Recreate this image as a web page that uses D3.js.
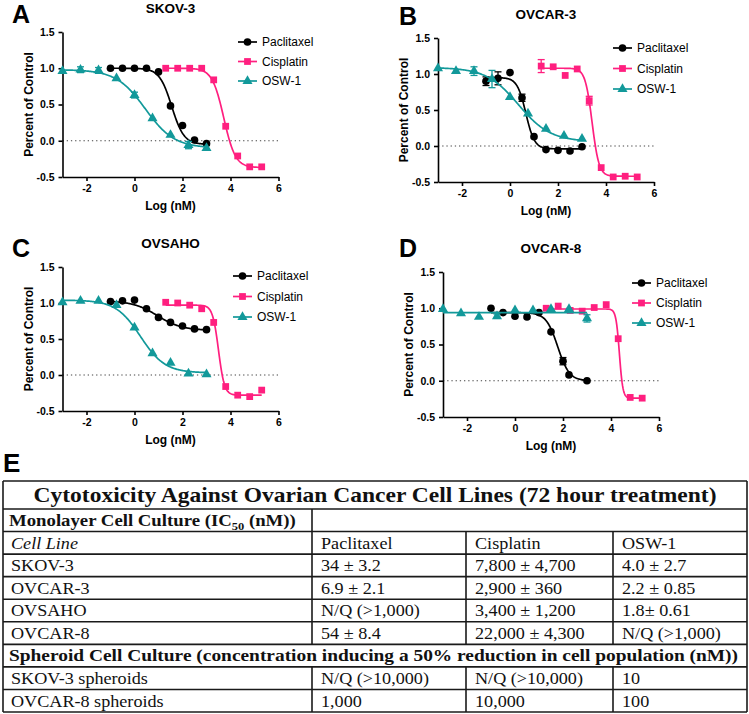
<!DOCTYPE html>
<html>
<head>
<meta charset="utf-8">
<script src="https://cdn.jsdelivr.net/npm/d3@7"></script>
<style>
  body { margin: 0; background: #fff; }
  svg { display: block; }
</style>
</head>
<body>
<svg id="chart" width="749" height="714"></svg>
<script>
// axis ticks and legend names
const xTicks = [-2, 0, 2, 4, 6]
const yTicks = [-0.5, 0, 0.5, 1.0, 1.5]
const drugs = ['Paclitaxel', 'Cisplatin', 'OSW-1']

// doses, Log (nM)
const paclitaxelDoses = [-1, -0.5, 0, 0.5, 1, 1.5, 2, 2.5, 3]
const paclitaxelDosesOvcar8 = [-1, -0.5, 0, 0.5, 1, 1.5, 2, 2.25, 3]
const cisplatinDoses = [1.3, 1.8, 2.3, 2.8, 3.3, 3.8, 4.3, 4.8, 5.3]
const osw1Doses = [-3, -2.25, -1.5, -0.75, 0, 0.75, 1.5, 2.25, 3]

// A: SKOV-3 (percent of control)
const skov3Paclitaxel = [1.0, 1.0, 1.0, 1.0, 0.95, 0.48, 0.21, 0.01, -0.04]
const skov3Cisplatin = [1.0, 1.0, 1.0, 1.0, 0.84, 0.2, -0.21, -0.36, -0.36]
const skov3Osw1 = [0.96, 0.98, 0.97, 0.86, 0.63, 0.31, 0.08, -0.06, -0.1]
const skov3Osw1Err = [0, 0.04, 0.04, 0, 0.04, 0, 0, 0.05, 0]
// fitted curves: [top, bottom, logIC50, hill slope]
const skov3Fits = [[1.0, -0.05, 1.55, 1.7], [1.0, -0.37, 3.72, 1.8], [0.98, -0.1, 0.45, 0.72]]

// B: OVCAR-3
const ovcar3Paclitaxel = [0.9, 0.94, 1.02, 0.67, 0.13, -0.05, -0.06, -0.07, -0.01]
const ovcar3PaclitaxelErr = [0.06, 0.09, 0, 0.05, 0, 0, 0, 0, 0]
const ovcar3Cisplatin = [1.11, 1.1, 0.98, 1.07, 0.63, -0.3, -0.43, -0.42, -0.43]
const ovcar3CisplatinErr = [0.09, 0, 0, 0, 0.06, 0, 0, 0, 0]
const ovcar3Osw1 = [1.08, 1.04, 1.04, 0.93, 0.68, 0.45, 0.24, 0.14, 0.1]
const ovcar3Osw1Err = [0, 0, 0.06, 0.12, 0, 0, 0, 0, 0]
const ovcar3Fits = [[0.95, -0.04, 0.66, 2.4], [1.08, -0.42, 3.42, 3.0], [1.09, 0.06, 0.35, 0.65]]

// C: OVSAHO
const ovsahoPaclitaxel = [1.02, 1.03, 1.04, 0.92, 0.8, 0.73, 0.68, 0.64, 0.63]
const ovsahoCisplatin = [1.01, 1.0, 0.97, 0.92, 0.73, -0.16, -0.28, -0.3, -0.21]
const ovsahoOsw1 = [1.01, 1.03, 1.03, 0.97, 0.66, 0.3, 0.17, 0.02, 0.01]
const ovsahoFits = [[1.03, 0.62, 0.95, 0.85], [0.97, -0.28, 3.5, 3.5], [1.04, 0.03, 0.25, 0.85]]

// D: OVCAR-8
const ovcar8Paclitaxel = [1.0, 0.94, 0.89, 0.88, 0.94, 0.675, 0.27, 0.08, 0.0]
const ovcar8PaclitaxelErr = [0, 0, 0, 0, 0, 0, 0.05, 0, 0]
const ovcar8Cisplatin = [1.0, 1.03, 0.97, 0.96, 1.01, 1.05, 0.58, -0.23, -0.24]
const ovcar8Osw1 = [0.99, 0.93, 0.88, 0.89, 0.97, 0.97, 0.99, 0.99, 0.86]
const ovcar8Osw1Err = [0, 0, 0, 0.03, 0, 0, 0, 0, 0.05]
const ovcar8Fits = [[0.94, 0.0, 1.78, 1.8], [0.99, -0.24, 4.35, 6], [0.94, 0.94, 0, 1]]

// E: table
const tableTitle = 'Cytotoxicity Against Ovarian Cancer Cell Lines (72 hour treatment)'
const monolayerLines = ['SKOV-3', 'OVCAR-3', 'OVSAHO', 'OVCAR-8']
const monolayerValues = [
  ['34 ± 3.2', '7,800 ± 4,700', '4.0 ± 2.7'],
  ['6.9 ± 2.1', '2,900 ± 360', '2.2 ± 0.85'],
  ['N/Q (>1,000)', '3,400 ± 1,200', '1.8± 0.61'],
  ['54 ± 8.4', '22,000 ± 4,300', 'N/Q (>1,000)'],
]
const spheroidTitle = 'Spheroid Cell Culture (concentration inducing a 50% reduction in cell population (nM))'
const spheroidLines = ['SKOV-3 spheroids', 'OVCAR-8 spheroids']
const spheroidValues = [
  ['N/Q (>10,000)', 'N/Q (>10,000)', '10'],
  ['1,000', '10,000', '100'],
]

const COLORS = ['#000000', '#ff1f7f', '#12999a']
const SYMBOLS = [d3.symbolCircle, d3.symbolSquare, d3.symbolTriangle]
const SYMBOL_SIZES = [46, 46, 44]
const SANS = '"Liberation Sans", Arial, sans-serif'
const SERIF = '"Liberation Serif", "Times New Roman", serif'
const CELL_STRETCH = 1.1

const zeros = (n) => new Array(n).fill(0)

const panels = [
  {
    letter: 'A', letterX: 12, letterY: 23, title: 'SKOV-3',
    left: 62.5, top: 32, bottom: 177, legendX: 238, legendY: 42, legendStep: 19.5,
    series: [
      { doses: paclitaxelDoses, values: skov3Paclitaxel, errs: zeros(9), fit: skov3Fits[0] },
      { doses: cisplatinDoses, values: skov3Cisplatin, errs: zeros(9), fit: skov3Fits[1] },
      { doses: osw1Doses, values: skov3Osw1, errs: skov3Osw1Err, fit: skov3Fits[2] },
    ],
  },
  {
    letter: 'B', letterX: 399, letterY: 25, title: 'OVCAR-3',
    left: 438, top: 38, bottom: 182, legendX: 613, legendY: 48, legendStep: 20.5,
    series: [
      { doses: paclitaxelDoses, values: ovcar3Paclitaxel, errs: ovcar3PaclitaxelErr, fit: ovcar3Fits[0] },
      { doses: cisplatinDoses, values: ovcar3Cisplatin, errs: ovcar3CisplatinErr, fit: ovcar3Fits[1] },
      { doses: osw1Doses, values: ovcar3Osw1, errs: ovcar3Osw1Err, fit: ovcar3Fits[2] },
    ],
  },
  {
    letter: 'C', letterX: 12, letterY: 257, title: 'OVSAHO',
    left: 62.5, top: 267, bottom: 411, legendX: 233, legendY: 276, legendStep: 20.5,
    series: [
      { doses: paclitaxelDoses, values: ovsahoPaclitaxel, errs: zeros(9), fit: ovsahoFits[0] },
      { doses: cisplatinDoses, values: ovsahoCisplatin, errs: zeros(9), fit: ovsahoFits[1] },
      { doses: osw1Doses, values: ovsahoOsw1, errs: zeros(9), fit: ovsahoFits[2] },
    ],
  },
  {
    letter: 'D', letterX: 399, letterY: 257, title: 'OVCAR-8',
    left: 443, top: 272, bottom: 417, legendX: 632, legendY: 283, legendStep: 20,
    series: [
      { doses: paclitaxelDosesOvcar8, values: ovcar8Paclitaxel, errs: ovcar8PaclitaxelErr, fit: ovcar8Fits[0] },
      { doses: cisplatinDoses, values: ovcar8Cisplatin, errs: zeros(9), fit: ovcar8Fits[1] },
      { doses: osw1Doses, values: ovcar8Osw1, errs: ovcar8Osw1Err, fit: ovcar8Fits[2] },
    ],
  },
]

const svg = d3.select('#chart')
svg.append('rect').attr('width', 749).attr('height', 714).attr('fill', '#fff')

// four parameter logistic used by the fitted curves
function logistic(fit, d) {
  const [top, bottom, logIC50, hill] = fit
  return bottom + (top - bottom) / (1 + Math.pow(10, (d - logIC50) * hill))
}

function drawPanel(p) {
  const x = d3.scaleLinear().domain([-3, 6]).range([p.left, p.left + 216])
  const y = d3.scaleLinear().domain([-0.5, 1.5]).range([p.bottom, p.top])
  const g = svg.append('g')

  // Panel letter and title
  g.append('text')
    .attr('x', p.letterX)
    .attr('y', p.letterY)
    .style('font', `bold 25px ${SANS}`)
    .text(p.letter)
  g.append('text')
    .attr('x', (p.left + x(6)) / 2)
    .attr('y', p.top - 19)
    .attr('text-anchor', 'middle')
    .style('font', `bold 13.5px ${SANS}`)
    .text(p.title)

  // dotted zero line
  g.append('line')
    .attr('x1', x(-3))
    .attr('x2', x(6))
    .attr('y1', y(0))
    .attr('y2', y(0))
    .attr('stroke', '#444')
    .attr('stroke-width', 1.2)
    .attr('stroke-dasharray', '1.3,2.9')

  // Axes
  const xAxis = g.append('g')
    .attr('transform', `translate(0,${p.bottom})`)
    .call(d3.axisBottom(x).tickValues(xTicks).tickSize(4).tickSizeOuter(0).tickPadding(4).tickFormat((d) => d))
  const yAxis = g.append('g')
    .attr('transform', `translate(${p.left},0)`)
    .call(d3.axisLeft(y).tickValues(yTicks).tickSize(4).tickSizeOuter(0).tickPadding(4).tickFormat((d) => d.toFixed(1)))
  ;[xAxis, yAxis].forEach((a) => {
    a.selectAll('path, line').attr('stroke', '#000').attr('stroke-width', 1.6)
    a.selectAll('text').attr('fill', '#000').style('font', `bold 10.5px ${SANS}`)
  })

  g.append('text')
    .attr('x', (p.left + x(6)) / 2)
    .attr('y', p.bottom + 33)
    .attr('text-anchor', 'middle')
    .style('font', `bold 12px ${SANS}`)
    .text('Log (nM)')
  g.append('text')
    .attr('transform', `translate(${p.left - 30},${(p.top + p.bottom) / 2}) rotate(-90)`)
    .attr('text-anchor', 'middle')
    .style('font', `bold 12px ${SANS}`)
    .text('Percent of Control')

  const line = d3.line().x((d) => x(d[0])).y((d) => y(d[1]))

  p.series.forEach((s, i) => {
    const lo = d3.min(s.doses)
    const hi = d3.max(s.doses)
    const pts = d3.range(0, 201).map((k) => {
      const d = lo + ((hi - lo) * k) / 200
      return [d, logistic(s.fit, d)]
    })

    // Fitted curve
    g.append('path')
      .attr('d', line(pts))
      .attr('fill', 'none')
      .attr('stroke', COLORS[i])
      .attr('stroke-width', 1.7)

    const data = s.doses.map((d, k) => ({ d, v: s.values[k], e: s.errs[k] }))

    // Error bars
    const bars = g.append('g')
      .selectAll('g')
      .data(data.filter((o) => o.e > 0))
      .join('g')
      .attr('stroke', COLORS[i])
      .attr('stroke-width', 1.3)
    bars.append('line')
      .attr('x1', (o) => x(o.d))
      .attr('x2', (o) => x(o.d))
      .attr('y1', (o) => y(o.v - o.e))
      .attr('y2', (o) => y(o.v + o.e))
    bars.append('line')
      .attr('x1', (o) => x(o.d) - 3.5)
      .attr('x2', (o) => x(o.d) + 3.5)
      .attr('y1', (o) => y(o.v + o.e))
      .attr('y2', (o) => y(o.v + o.e))
    bars.append('line')
      .attr('x1', (o) => x(o.d) - 3.5)
      .attr('x2', (o) => x(o.d) + 3.5)
      .attr('y1', (o) => y(o.v - o.e))
      .attr('y2', (o) => y(o.v - o.e))

    // Points
    g.append('g')
      .selectAll('path')
      .data(data)
      .join('path')
      .attr('transform', (o) => `translate(${x(o.d)},${y(o.v)})`)
      .attr('d', d3.symbol().type(SYMBOLS[i]).size(SYMBOL_SIZES[i]))
      .attr('fill', COLORS[i])

    // Legend entry
    const ly = p.legendY + i * p.legendStep
    g.append('line')
      .attr('x1', p.legendX)
      .attr('x2', p.legendX + 19)
      .attr('y1', ly)
      .attr('y2', ly)
      .attr('stroke', COLORS[i])
      .attr('stroke-width', 1.7)
    g.append('path')
      .attr('transform', `translate(${p.legendX + 9.5},${ly})`)
      .attr('d', d3.symbol().type(SYMBOLS[i]).size(SYMBOL_SIZES[i]))
      .attr('fill', COLORS[i])
    g.append('text')
      .attr('x', p.legendX + 24)
      .attr('y', ly)
      .attr('dy', '0.35em')
      .style('font', `12px ${SANS}`)
      .text(drugs[i])
  })
}

panels.forEach(drawPanel)

// ---- Table E ----
svg.append('text')
  .attr('x', 3)
  .attr('y', 472)
  .style('font', `bold 26px ${SANS}`)
  .text('E')

const tLeft = 3
const tRight = 747
const colX = [tLeft, 312, 466, 613, tRight]
const titleTop = 481
const titleBottom = 509
const rowH = (712 - titleBottom) / 9
const rowTop = (r) => titleBottom + r * rowH
const tableBottom = rowTop(9)
const tbl = svg.append('g')

// rows: 0 monolayer header, 1 cell line header, 2-5 monolayer, 6 spheroid header, 7-8 spheroid
const rowCells = []
rowCells.push({ r: 1, cells: ['Cell Line'].concat(drugs), italicFirst: true })
monolayerLines.forEach((name, k) => rowCells.push({ r: 2 + k, cells: [name].concat(monolayerValues[k]) }))
spheroidLines.forEach((name, k) => rowCells.push({ r: 7 + k, cells: [name].concat(spheroidValues[k]) }))

// horizontal rules
const hYs = [titleTop, titleBottom].concat(d3.range(1, 10).map(rowTop))
tbl.selectAll('line.h')
  .data(hYs)
  .join('line')
  .attr('class', 'h')
  .attr('x1', tLeft)
  .attr('x2', tRight)
  .attr('y1', (d) => d)
  .attr('y2', (d) => d)
  .attr('stroke', '#1a1a1a')
  .attr('stroke-width', 1.6)

// vertical rules
const vSegs = [
  [tLeft, titleTop, tableBottom],
  [tRight, titleTop, tableBottom],
  [colX[1], rowTop(0), rowTop(6)],
  [colX[2], rowTop(1), rowTop(6)],
  [colX[3], rowTop(1), rowTop(6)],
  [colX[1], rowTop(7), tableBottom],
  [colX[2], rowTop(7), tableBottom],
  [colX[3], rowTop(7), tableBottom],
]
tbl.selectAll('line.v')
  .data(vSegs)
  .join('line')
  .attr('class', 'v')
  .attr('x1', (d) => d[0])
  .attr('x2', (d) => d[0])
  .attr('y1', (d) => d[1])
  .attr('y2', (d) => d[2])
  .attr('stroke', '#1a1a1a')
  .attr('stroke-width', 1.6)

tbl.append('text')
  .attr('x', (tLeft + tRight) / 2)
  .attr('y', titleBottom - 7)
  .attr('text-anchor', 'middle')
  .attr('textLength', 683)
  .attr('lengthAdjust', 'spacingAndGlyphs')
  .style('font', `bold 22px ${SERIF}`)
  .attr('fill', '#111')
  .text(tableTitle)

// monolayer header, stretched to its measured width
const mono = tbl.append('text')
  .style('font', `bold 16.5px ${SERIF}`)
  .attr('fill', '#111')
mono.append('tspan').text('Monolayer Cell Culture (IC')
mono.append('tspan').attr('dy', 4).style('font-size', '11px').text('50')
mono.append('tspan').attr('dy', -4).text(' (nM))')
const monoScale = 287 / mono.node().getComputedTextLength()
mono.attr('transform', `translate(9,${rowTop(1) - 6}) scale(${monoScale},1)`)

tbl.append('text')
  .attr('x', 9)
  .attr('y', rowTop(7) - 6)
  .attr('textLength', 729)
  .attr('lengthAdjust', 'spacingAndGlyphs')
  .style('font', `bold 16.5px ${SERIF}`)
  .attr('fill', '#111')
  .text(spheroidTitle)

rowCells.forEach((row) => {
  row.cells.forEach((c, j) => {
    const cx = colX[j] + (j === 0 ? 8 : 9)
    tbl.append('text')
      .attr('transform', `translate(${cx},${rowTop(row.r + 1) - 5.5}) scale(${CELL_STRETCH},1)`)
      .style('font', `${row.italicFirst && j === 0 ? 'italic ' : ''}16.5px ${SERIF}`)
      .attr('fill', '#111')
      .text(c)
  })
})
</script>
</body>
</html>
